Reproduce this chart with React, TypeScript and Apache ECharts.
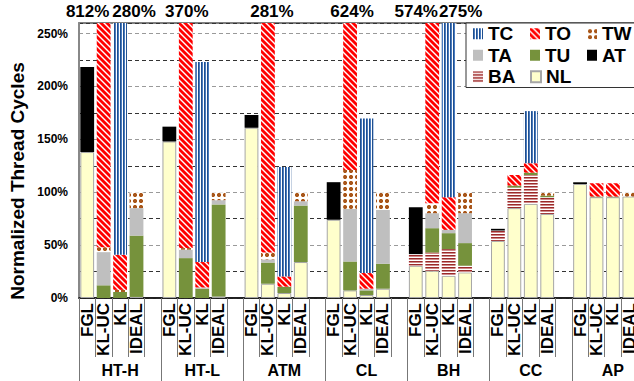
import React, { useEffect, useRef } from 'react';
import * as echarts from 'echarts';

const groups = ['HT-H', 'HT-L', 'ATM', 'CL', 'BH', 'CC', 'AP'];
const methods = ['FGL', 'KL-UC', 'KL', 'IDEAL'];

// values per group, per method [FGL, KL-UC, KL, IDEAL] (in %)
const NL = [[138, 0, 0, 1], [148, 0, 0, 1.5], [161, 13.5, 4.7, 34], [74, 7.2, 2.8, 8.8], [30.5, 25.8, 21, 24.2], [54, 85, 89, 79.5], [107.8, 95.3, 95.3, 96]];
const BA = [[0, 0, 0, 0], [0, 0, 0, 0], [0, 0, 0, 0], [0, 0, 0, 0], [11, 17.2, 25.2, 6.3], [9.8, 19.4, 27.3, 15.8], [0, 0, 0, 0]];
const AT = [[80.5, 0, 0, 0], [14, 0, 0, 0], [12, 0, 0, 0], [35.5, 0, 0, 0], [44.3, 0, 0, 0], [1.6, 0, 0, 0], [1.6, 0, 0, 0]];
const TU = [[0, 12, 5.7, 58], [0, 37.7, 8.8, 87], [0, 20, 6, 53.4], [0, 27.3, 4.4, 23.6], [0, 23, 15.1, 21.4], [0, 1.9, 2.2, 1.5], [0, 0.6, 0.6, 0]];
const TA = [[0, 31.4, 0, 26], [0, 8, 1.2, 4], [0, 3, 0, 4.1], [0, 49.7, 1.6, 50.9], [0, 14.2, 3.1, 28.3], [0, 0, 0, 0], [0, 0, 0, 0]];
const TW = [[0, 4.6, 2, 15], [0, 1.5, 0, 7.5], [0, 6.5, 0, 8.5], [0, 36.8, 0, 16.7], [0, 9.4, 0, 19.8], [0, 0, 0, 3], [0, 0, 0, 4]];
const TO = [[0, 764, 33.1, 0], [0, 322.8, 24, 0], [0, 238, 9.7, 0], [0, 503, 14.8, 0], [0, 484.4, 30.9, 0], [0, 10, 8.9, 0], [0, 12.6, 12.6, 0]];
const TC = [[0, 0, 239.2, 0], [0, 0, 189.2, 0], [0, 0, 103.4, 0], [0, 0, 146.2, 0], [0, 0, 179.7, 0], [0, 0, 49.3, 0], [0, 0, 0, 0]];

// bars that run off the top of the axis, with their totals
const overflowGroups = ['HT-H', 'HT-H', 'HT-L', 'ATM', 'CL', 'BH', 'BH'];
const overflowMethods = ['KL-UC', 'KL', 'KL-UC', 'KL-UC', 'KL-UC', 'KL-UC', 'KL'];
const overflowValues = [812, 280, 370, 281, 624, 574, 275];

const yMax = 260;
const yStep = 25;
const legendOrder = ['TC', 'TO', 'TW', 'TA', 'TU', 'AT', 'BA', 'NL'];

// layout (not data)
const overflowLabelDx = [-16, 14, 1, 4, 2, -16, 12];
const FONT = 'Liberation Sans, Arial, Helvetica, sans-serif';

function makePattern(w: number, h: number, draw: (ctx: CanvasRenderingContext2D) => void) {
  const c = document.createElement('canvas');
  c.width = w;
  c.height = h;
  const ctx = c.getContext('2d')!;
  ctx.fillStyle = '#ffffff';
  ctx.fillRect(0, 0, w, h);
  draw(ctx);
  return { image: c, repeat: 'repeat' } as any;
}

function flatten(arr: number[][]) {
  const out: any[] = [];
  arr.forEach((g) => {
    g.forEach((v) => out.push(v > 0 ? v : '-'));
    out.push('-');
  });
  return out;
}

export default function App() {
  const ref = useRef<HTMLDivElement>(null);
  useEffect(() => {
    if (!ref.current) return;
    const chart = echarts.init(ref.current, undefined, { renderer: 'svg' });

    const toPat = makePattern(6, 6, (ctx) => {
      ctx.strokeStyle = '#ff0000';
      ctx.lineWidth = 2.8;
      for (const o of [-6, 0, 6]) {
        ctx.beginPath();
        ctx.moveTo(o - 1, -1);
        ctx.lineTo(o + 7, 7);
        ctx.stroke();
      }
    });
    const tcPat = makePattern(3, 2, (ctx) => {
      ctx.fillStyle = '#1f4f8f';
      ctx.fillRect(0, 0, 1, 2);
      ctx.fillStyle = '#4a7cc0';
      ctx.fillRect(1, 0, 1, 2);
    });
    const baPat = makePattern(2, 3, (ctx) => {
      ctx.fillStyle = '#9b2a2a';
      ctx.fillRect(0, 0, 2, 1);
      ctx.fillStyle = '#cf8a8a';
      ctx.fillRect(0, 1, 2, 1);
    });
    const twPat = makePattern(6, 6, (ctx) => {
      ctx.fillStyle = '#e8c3a0';
      ctx.fillRect(1, 1, 4, 4);
      ctx.fillStyle = '#a8561a';
      ctx.fillRect(2, 1, 2, 4);
      ctx.fillRect(1, 2, 4, 2);
    });

    const categories: string[] = [];
    groups.forEach(() => {
      methods.forEach((m) => categories.push(m));
      categories.push('');
    });

    const seriesDefs: { name: string; data: number[][]; style: any }[] = [
      { name: 'NL', data: NL, style: { color: '#ffffcc', borderColor: '#a6a6a6', borderWidth: 1 } },
      { name: 'BA', data: BA, style: { color: baPat } },
      { name: 'AT', data: AT, style: { color: '#000000' } },
      { name: 'TU', data: TU, style: { color: '#76923c' } },
      { name: 'TA', data: TA, style: { color: '#bfbfbf' } },
      { name: 'TW', data: TW, style: { color: twPat } },
      { name: 'TO', data: TO, style: { color: toPat } },
      { name: 'TC', data: TC, style: { color: tcPat } },
    ];

    const barSeries = seriesDefs.map((s) => ({
      name: s.name,
      type: 'bar',
      stack: 'total',
      xAxisIndex: 0,
      barWidth: '84%',
      data: flatten(s.data),
      itemStyle: s.style,
      emphasis: { disabled: true },
    }));

    const option: any = {
      animation: false,
      backgroundColor: '#ffffff',
      textStyle: { fontFamily: FONT },
      grid: {
        left: 79,
        right: 6,
        top: 23,
        bottom: 83,
        show: true,
        borderColor: '#555555',
        borderWidth: 1.5,
        backgroundColor: 'transparent',
      },
      legend: {
        data: legendOrder,
        left: 466,
        top: 23,
        width: 171,
        orient: 'horizontal',
        itemGap: 0,
        itemWidth: 10,
        itemHeight: 11,
        padding: [0, 60, 0, 7],
        backgroundColor: '#ffffff',
        borderColor: '#333333',
        borderWidth: 1,
        borderRadius: 0,
        selectedMode: false,
        icon: 'rect',
        textStyle: {
          fontSize: 19,
          fontWeight: 'bold',
          color: '#000',
          fontFamily: FONT,
          width: 42,
          lineHeight: 21.5,
        },
      },
      xAxis: [
        {
          type: 'category',
          data: categories,
          position: 'bottom',
          axisLine: { show: true, lineStyle: { color: '#000', width: 1.5 } },
          axisTick: { show: true, interval: 0, length: 59, lineStyle: { color: '#777' } },
          axisLabel: {
            interval: 0,
            rotate: 90,
            fontSize: 17,
            fontWeight: 'bold',
            color: '#000',
            margin: 5,
            fontFamily: FONT,
          },
          splitLine: { show: false },
        },
        {
          type: 'category',
          data: groups,
          position: 'bottom',
          axisLine: { show: false },
          axisTick: { show: true, interval: 0, length: 83, lineStyle: { color: '#777' } },
          axisLabel: {
            interval: 0,
            fontSize: 16,
            fontWeight: 'bold',
            color: '#000',
            margin: 64,
            fontFamily: FONT,
          },
          splitLine: { show: false },
        },
      ],
      yAxis: {
        type: 'value',
        min: 0,
        max: yMax,
        interval: yStep,
        axisLine: { show: true, lineStyle: { color: '#888', width: 2 } },
        axisTick: { show: false },
        axisLabel: {
          formatter: (v: number) => (v % 50 === 0 && v <= 250 ? v + '%' : ''),
          fontSize: 12,
          fontWeight: 'bold',
          color: '#000',
          margin: 11,
          fontFamily: FONT,
        },
        splitLine: { show: true, lineStyle: { color: ['#9a9a9a', '#333333'], type: [4, 3], width: 1 } },
      },
      graphic: [
        {
          type: 'text',
          x: 17,
          y: 181,
          rotation: Math.PI / 2,
          style: {
            text: 'Normalized Thread Cycles',
            fontSize: 19,
            fontWeight: 'bold',
            fill: '#000',
            align: 'center',
            verticalAlign: 'middle',
            fontFamily: FONT,
          },
        },
      ],
      series: barSeries,
    };

    chart.setOption(option);

    // overflow totals placed above their bars through the axis scales
    const labelGraphics = overflowValues.map((v, i) => {
      const slot = groups.indexOf(overflowGroups[i]) * 5 + methods.indexOf(overflowMethods[i]);
      const pt = chart.convertToPixel({ xAxisIndex: 0, yAxisIndex: 0 }, [slot, yMax]) as number[];
      return {
        type: 'text',
        x: pt[0] + overflowLabelDx[i],
        y: pt[1] - 3,
        style: {
          text: v + '%',
          fontSize: 17,
          fontWeight: 'bold',
          fill: '#000',
          align: 'center',
          verticalAlign: 'bottom',
          fontFamily: FONT,
        },
      };
    });
    chart.setOption({ graphic: [option.graphic[0], ...labelGraphics] });

    return () => chart.dispose();
  }, []);

  return (
    <div
      style={{
        position: 'fixed',
        left: 0,
        top: 0,
        width: 634,
        height: 381,
        overflow: 'hidden',
        background: '#fff',
      }}
    >
      <div ref={ref} style={{ width: 660, height: 381 }} />
    </div>
  );
}
